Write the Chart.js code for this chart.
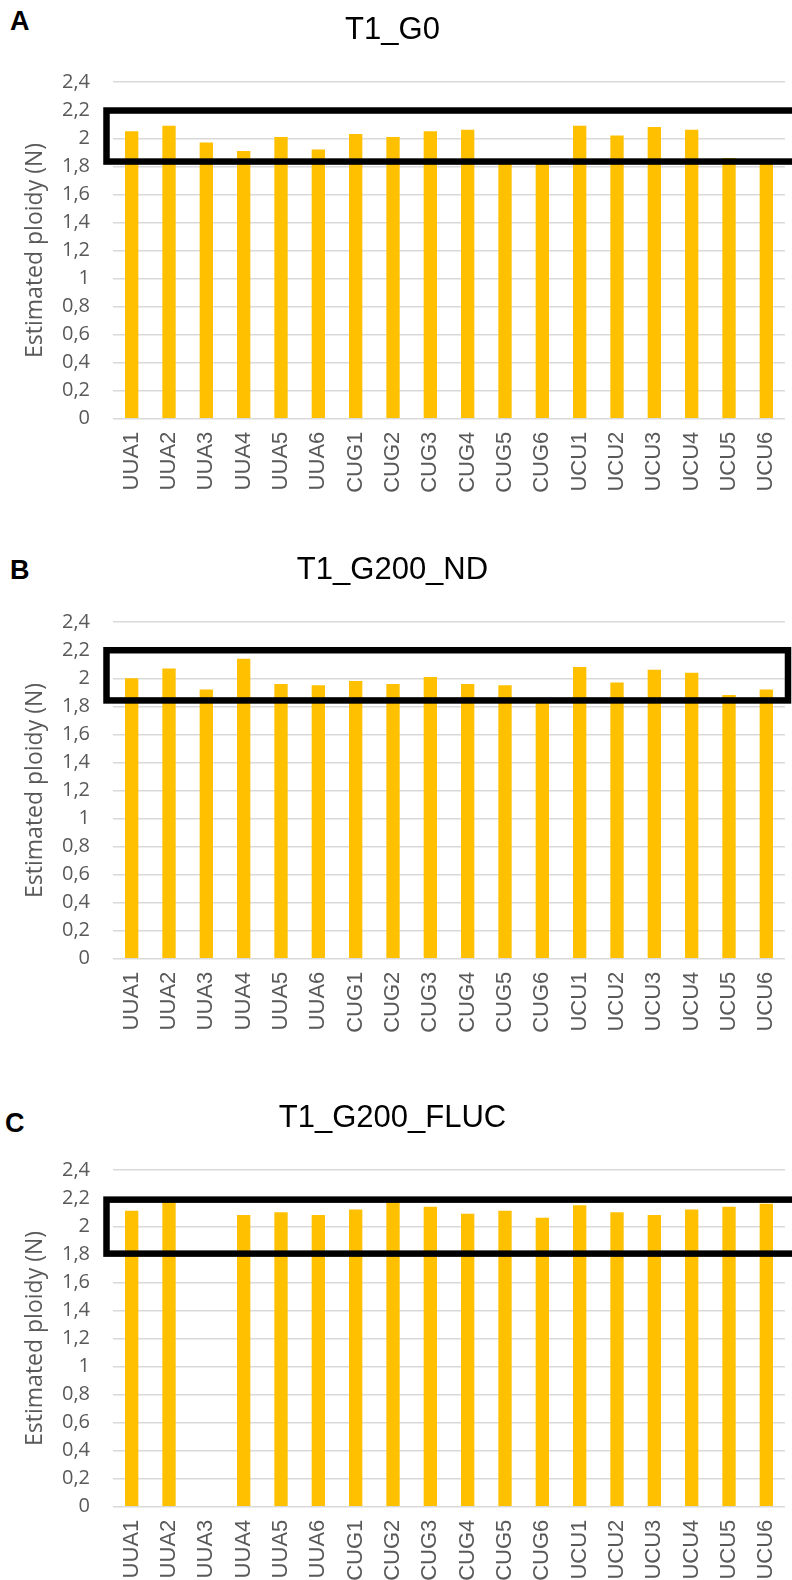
<!DOCTYPE html>
<html>
<head>
<meta charset="utf-8">
<script src="https://cdn.jsdelivr.net/npm/chart.js@4"></script>
<style>
  body { margin: 0; width: 792px; height: 1580px; overflow: hidden; background: #fff; position: relative; }
  canvas { position: absolute; left: 0; }
  .letter { position: absolute; font: bold 27px "Liberation Sans", Arial, sans-serif; line-height: 1; color: #000; }
</style>
</head>
<body>
<div class="letter" style="left:10px;top:8px">A</div>
<div class="letter" style="left:10px;top:557px">B</div>
<div class="letter" style="left:5px;top:1110px">C</div>
<canvas id="chartA" width="792" height="540" style="top:0px"></canvas>
<canvas id="chartB" width="792" height="548" style="top:540px"></canvas>
<canvas id="chartC" width="792" height="492" style="top:1088px"></canvas>
<script>
const categories = ["UUA1", "UUA2", "UUA3", "UUA4", "UUA5", "UUA6",
  "CUG1", "CUG2", "CUG3", "CUG4", "CUG5", "CUG6",
  "UCU1", "UCU2", "UCU3", "UCU4", "UCU5", "UCU6"];
const ploidyG0 = [2.05, 2.09, 1.97, 1.91, 2.01, 1.92, 2.03, 2.01, 2.05, 2.06, 1.84, 1.84,
  2.09, 2.02, 2.08, 2.06, 1.86, 1.84];
const ploidyND = [2.0, 2.07, 1.92, 2.14, 1.96, 1.95, 1.98, 1.96, 2.01, 1.96, 1.95, 1.84,
  2.08, 1.97, 2.06, 2.04, 1.88, 1.92];
const ploidyFLUC = [2.11, 2.18, null, 2.08, 2.10, 2.08, 2.12, 2.18, 2.14, 2.09, 2.11, 2.06,
  2.15, 2.10, 2.08, 2.12, 2.14, 2.16];
const yTickValues = [0, 0.2, 0.4, 0.6, 0.8, 1, 1.2, 1.4, 1.6, 1.8, 2, 2.2, 2.4];
// highlighted ploidy range in each panel [low, high]
const boxG0 = [1.834, 2.198];
const boxND = [1.842, 2.2];
const boxFLUC = [1.805, 2.19];

const gray = "#595959";

const highlightBox = {
  id: "highlightBox",
  afterDraw(chart, args, opts) {
    const y = chart.scales.y;
    const ctx = chart.ctx;
    const top = y.getPixelForValue(opts.range[1]);
    const bottom = y.getPixelForValue(opts.range[0]);
    const left = chart.chartArea.left - 6.5;
    const right = opts.closed ? chart.width - 4 : chart.width + 10;
    ctx.save();
    ctx.lineWidth = 6.5;
    ctx.strokeStyle = "#000";
    ctx.strokeRect(left, top, right - left, bottom - top);
    ctx.restore();
  }
};

function makeChart(id, title, values, box, closed, xHeight) {
  const ctx = document.getElementById(id).getContext("2d");
  return new Chart(ctx, {
    type: "bar",
    data: {
      labels: categories,
      datasets: [{
        label: title,
        data: values,
        backgroundColor: "#ffc000",
        barPercentage: 0.357,
        categoryPercentage: 1.0
      }]
    },
    options: {
      responsive: false,
      animation: false,
      devicePixelRatio: 1,
      layout: { padding: { left: 0, right: 7, top: 0, bottom: 0 } },
      plugins: {
        legend: { display: false },
        tooltip: { enabled: false },
        title: {
          display: true,
          text: title,
          color: "#000",
          font: { family: "'Liberation Sans', Arial, sans-serif", size: 31, weight: "normal" },
          padding: { top: 12, bottom: 33 }
        },
        highlightBox: { range: box, closed: closed }
      },
      scales: {
        x: {
          grid: { display: false, drawTicks: false },
          border: { display: false },
          ticks: {
            autoSkip: false,
            maxRotation: 90,
            minRotation: 90,
            padding: 13,
            color: gray,
            font: { family: "'Liberation Sans', Arial, sans-serif", size: 22 }
          },
          afterFit(scale) {
            scale.height = xHeight;
            scale.paddingLeft = 0;
            scale.paddingRight = 0;
          }
        },
        y: {
          min: 0,
          max: 2.4,
          afterBuildTicks(scale) {
            scale.ticks = yTickValues.map(v => ({ value: v }));
          },
          grid: { color: "#d9d9d9", lineWidth: 1.5, drawTicks: false },
          border: { display: false },
          ticks: {
            padding: 23,
            color: gray,
            font: { family: "'Open Sans', sans-serif", size: 20 },
            callback: v => String(Math.round(v * 10) / 10).replace(".", ",")
          },
          title: {
            display: true,
            text: "Estimated ploidy (N)",
            color: gray,
            font: { family: "'Open Sans', sans-serif", size: 23 },
            padding: { top: 22, bottom: 0 }
          },
          afterFit(scale) { scale.width = 113; }
        }
      }
    },
    plugins: [highlightBox]
  });
}

makeChart("chartA", "T1_G0", ploidyG0, boxG0, false, 121.3);
makeChart("chartB", "T1_G200_ND", ploidyND, boxND, true, 129.3);
makeChart("chartC", "T1_G200_FLUC", ploidyFLUC, boxFLUC, false, 73.3);
</script>
</body>
</html>
